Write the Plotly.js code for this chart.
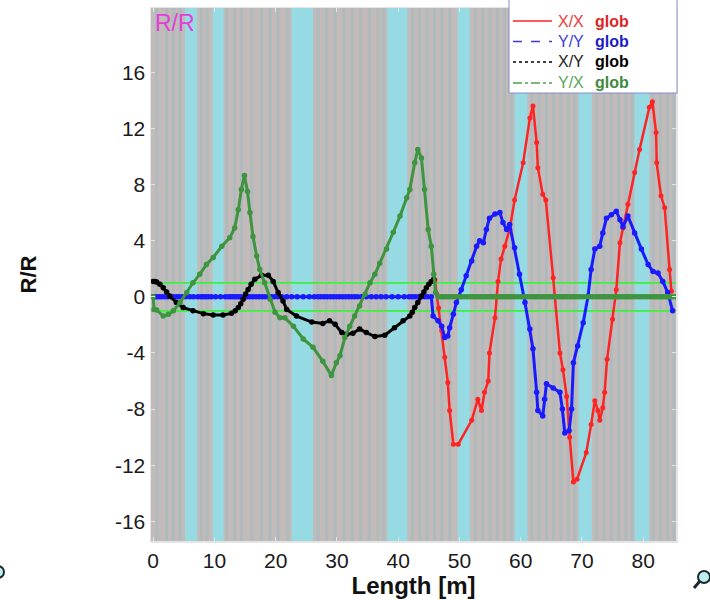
<!DOCTYPE html>
<html>
<head>
<meta charset="utf-8">
<script src="https://cdn.plot.ly/plotly-3.0.1.min.js"></script>
<style>html,body{margin:0;padding:0;background:#fff;}#chart{width:710px;height:600px;}</style>
</head>
<body>
<div id="chart"></div>
<script>
// ---- data ----
const seriesNames = ["X/X", "Y/Y", "X/Y", "Y/X"];
const seriesSuffix = "glob";

const xxLen = [46.0, 46.3, 46.6, 47.1, 47.6, 48.1, 48.4, 49.0, 49.8, 52.0, 53.0, 53.6, 54.1, 54.7, 54.9, 55.8, 56.3, 56.8, 57.4, 58.2, 59.0, 60.4, 61.5, 62.0, 62.6, 62.8, 63.6, 64.1, 65.3, 66.4, 66.9, 67.5, 68.0, 68.6, 69.2, 70.7, 71.5, 72.1, 72.6, 72.9, 73.4, 73.7, 74.1, 75.0, 75.6, 76.2, 76.7, 77.5, 78.6, 79.4, 81.0, 81.5, 82.1, 82.2, 82.9, 83.5, 84.3, 84.6];
const xxVal = [1.2, 0.2, -0.8, -2.4, -4.3, -6.1, -8.1, -10.5, -10.5, -8.8, -7.3, -8.1, -6.8, -6.0, -4.0, -1.5, 1.1, 2.7, 3.6, 4.8, 6.9, 9.55, 12.75, 13.6, 11.0, 9.2, 7.3, 6.9, 1.35, -4.0, -5.2, -7.1, -10.0, -13.2, -13.0, -11.1, -9.1, -7.4, -8.1, -8.8, -7.9, -6.8, -4.45, -1.6, 0.5, 3.85, 4.9, 6.6, 8.85, 10.5, 13.5, 13.9, 11.7, 9.55, 7.2, 6.35, 1.95, 0.4];

const yyLen = [0, 0.3, 0.7, 1.1, 1.5, 2.0, 2.4, 2.9, 3.3, 3.8, 4.2, 4.7, 5.3, 6.0, 6.6, 7.3, 7.8, 8.2, 8.6, 9.0, 9.5, 10.2, 11.0, 11.8, 12.3, 12.7, 13.1, 13.5, 13.9, 14.3, 14.8, 15.3, 15.8, 16.3, 16.8, 17.3, 17.8, 18.3, 18.8, 19.3, 19.8, 20.4, 21.0, 21.8, 22.6, 23.5, 24.5, 25.5, 26.3, 26.9, 27.4, 27.9, 28.4, 28.9, 29.4, 29.9, 30.4, 30.9, 31.4, 31.9, 32.4, 32.9, 33.4, 34.0, 34.8, 35.6, 36.4, 37.2, 38.0, 39.0, 40.0, 41.0, 41.8, 42.3, 42.8, 43.3, 43.8, 44.3, 44.8, 45.4,
  45.7, 46.5, 47.1, 47.6, 48.1, 48.4, 49.0, 49.5, 50.3, 51.1, 52.0, 52.8, 53.3, 53.9, 54.4, 54.9, 55.8, 56.6, 57.1, 57.7, 58.2, 59.0, 59.8, 60.7, 61.5, 62.0, 62.6, 62.8, 63.6, 63.9, 64.2, 65.3, 66.4, 66.8, 67.2, 67.9, 68.3, 68.6, 69.3, 70.2, 71.0, 71.5, 72.1, 72.9, 73.4, 74.0, 74.8, 75.6, 76.2, 76.7, 77.5, 78.6, 79.7, 80.8, 81.6, 82.4, 83.2, 84.0, 84.8];
const yyVal = [0, 0, 0, 0, 0, 0, 0, 0, 0, 0, 0, 0, 0, 0, 0, 0, 0, 0, 0, 0, 0, 0, 0, 0, 0, 0, 0, 0, 0, 0, 0, 0, 0, 0, 0, 0, 0, 0, 0, 0, 0, 0, 0, 0, 0, 0, 0, 0, 0, 0, 0, 0, 0, 0, 0, 0, 0, 0, 0, 0, 0, 0, 0, 0, 0, 0, 0, 0, 0, 0, 0, 0, 0, 0, 0, 0, 0, 0, 0, 0,
  -1.37, -1.7, -2.1, -2.9, -2.8, -2.2, -1.25, -0.4, 0.5, 1.5, 2.55, 3.6, 4.0, 3.85, 4.8, 5.6, 5.9, 6.0, 5.3, 4.8, 5.15, 3.5, 1.6, -0.4, -2.3, -3.7, -6.8, -8.1, -8.5, -7.3, -6.2, -6.5, -6.8, -8.0, -9.7, -9.55, -8.0, -4.7, -3.5, -1.85, 0.05, 1.95, 3.4, 3.6, 4.55, 5.6, 5.85, 6.1, 5.5, 5.0, 5.75, 4.55, 3.4, 2.3, 1.8, 1.7, 1.1, 0.3, -1.0];

const xyLen = [0, 0.3, 0.57, 1.1, 1.65, 2.2, 2.7, 3.8, 4.9, 6.5, 8.2, 9.8, 11.4, 12.8, 13.4, 13.9, 14.3, 14.7, 15.1, 15.5, 16.0, 16.6, 17.7, 18.8, 19.6, 20.4, 21.2, 21.8, 23.4, 25.9, 27.7, 28.8, 29.7, 30.8, 31.6, 32.6, 33.7, 34.8, 36.2, 37.8, 39.4, 40.8, 41.9, 42.3, 42.7, 43.2, 43.8, 44.2, 44.6, 45.0, 45.4, 45.8];
const xyVal = [1.1, 1.1, 1.05, 0.9, 0.65, 0.35, 0.05, -0.4, -0.77, -1.0, -1.2, -1.3, -1.3, -1.18, -1.0, -0.77, -0.5, -0.18, 0.2, 0.53, 0.9, 1.25, 1.53, 1.53, 1.1, 0.3, -0.3, -0.9, -1.37, -1.8, -1.9, -1.7, -1.96, -2.55, -2.67, -2.6, -2.3, -2.55, -2.83, -2.74, -2.2, -1.7, -1.37, -1.1, -0.77, -0.4, 0.06, 0.35, 0.65, 0.9, 1.1, 1.25];

const yxLen = [0, 0.15, 0.57, 1.65, 2.5, 3.3, 4.4, 5.5, 6.5, 7.6, 8.7, 9.8, 11.2, 12.5, 13.3, 13.9, 14.4, 14.9, 15.4, 15.8, 16.3, 16.9, 17.4, 18.2, 19.1, 19.9, 20.7, 21.5, 22.9, 24.5, 26.1, 27.7, 29.1, 29.9, 30.5, 31.3, 32.1, 32.9, 33.7, 34.6, 35.4, 36.2, 37.0, 38.1, 39.2, 40.3, 41.4, 41.9, 42.7, 43.2, 43.8, 44.3, 44.9, 45.4, 45.8, 46.1,
  46.5, 47.0, 47.4, 47.8, 48.2, 48.6, 49.0, 49.4, 49.8, 50.3, 50.8, 51.3, 51.8, 52.2, 52.6, 53.0, 53.4, 53.8, 54.2, 54.6, 55.0, 55.4, 55.8, 56.2, 56.6, 57.0, 57.4, 57.8, 58.2, 58.6, 59.0, 59.5, 60.0, 60.5, 61.0, 61.5, 62.0, 62.4, 62.8, 63.2, 63.6, 64.0, 64.4, 64.8, 65.2, 65.6, 66.0, 66.4, 66.8, 67.2, 67.6, 68.0, 68.4, 68.8, 69.2, 69.7, 70.2, 70.7, 71.2, 71.7, 72.2, 72.6, 73.0, 73.4, 73.8, 74.2, 74.6, 75.0, 75.4, 75.8, 76.2, 76.6, 77.0, 77.4, 77.8, 78.2, 78.7, 79.2, 79.7, 80.2, 80.7, 81.2, 81.6, 82.0, 82.4, 82.8, 83.2, 83.6, 84.0, 84.4, 84.8, 85.3];
const yxVal = [0, -0.9, -0.94, -1.37, -1.25, -1.0, -0.4, 0.3, 1.0, 1.6, 2.3, 2.8, 3.6, 4.2, 4.9, 6.2, 7.65, 8.65, 7.5, 6.0, 4.3, 2.9, 1.95, 1.0, -0.18, -1.1, -1.5, -1.5, -2.1, -3.0, -3.6, -4.6, -5.6, -4.7, -4.2, -2.9, -2.1, -1.37, -0.65, 0.18, 1.0, 1.6, 2.4, 3.4, 4.6, 5.75, 7.06, 7.65, 9.55, 10.5, 9.9, 7.65, 4.8, 3.6, 1.6, 0.3,
  0, 0, 0, 0, 0, 0, 0, 0, 0, 0, 0, 0, 0, 0, 0, 0, 0, 0, 0, 0, 0, 0, 0, 0, 0, 0, 0, 0, 0, 0, 0, 0, 0, 0, 0, 0, 0, 0, 0, 0, 0, 0, 0, 0, 0, 0, 0, 0, 0, 0, 0, 0, 0, 0, 0, 0, 0, 0, 0, 0, 0, 0, 0, 0, 0, 0, 0, 0, 0, 0, 0, 0, 0, 0, 0, 0, 0, 0, 0, 0, 0, 0, 0, 0, 0, 0, 0, 0, 0, 0, 0, 0];

// tolerance lines
const limitLevels = [1, -1];

// background element bands (lengths in m)
const cyanStart = [5.2, 9.7, 22.6, 38.2, 49.7, 59.0, 69.4, 78.6];
const cyanEnd   = [7.2, 11.5, 26.1, 41.5, 51.7, 61.1, 71.6, 81.0];
const greyMarks = [0.6, 2.2, 3.3, 4.4, 7.9, 8.8, 12.0, 13.3, 14.4, 16.1, 17.7, 19.1, 20.4, 22.0, 26.9, 28.3, 29.7, 31.1, 32.5, 33.9, 35.3, 36.7, 37.6, 42.3, 43.5, 44.7, 45.9, 47.1, 48.4, 52.6, 53.8, 55.0, 56.2, 57.4, 58.5, 61.8, 63.0, 64.2, 65.4, 66.6, 67.8, 68.8, 72.4, 73.6, 74.8, 76.0, 77.2, 78.2, 81.6, 82.8, 84.0, 85.0];

const xTicks = [0, 10, 20, 30, 40, 50, 60, 70, 80];
const yTicks = [-16, -12, -8, -4, 0, 4, 8, 12, 16];

// ---- styling ----
const FONT = "Arial, 'Liberation Sans', sans-serif";
const colors = {xx: "#ff2424", yy: "#1a1aff", xy: "#000000", yx: "#3f943f"};
const ML = 151, MR = 34, MT = 8, MB = 59, W = 710, H = 600;
const PW = W - ML - MR, PH = H - MT - MB;
const px2x = p => (p - ML) / PW;
const py2y = p => (H - MB - p) / PH;

function trace(x, y, color, lw, ms) {
  return {x: x, y: y, type: "scatter", mode: "lines+markers", showlegend: false,
    line: {color: color, width: lw}, marker: {color: color, size: ms, symbol: "circle"},
    hoverinfo: "skip"};
}

const data = [
  trace(xxLen, xxVal, colors.xx, 2.5, 5),
  trace(yyLen, yyVal, colors.yy, 3, 5.5),
  trace(xyLen, xyVal, colors.xy, 3, 5.5),
  trace(yxLen, yxVal, colors.yx, 3, 5.5)
];

const shapes = [];
greyMarks.forEach(c => shapes.push({type: "rect", xref: "x", yref: "paper", x0: c - 0.25, x1: c + 0.25, y0: 0, y1: 1,
  fillcolor: "#afbabd", line: {width: 0}, layer: "below"}));
cyanStart.forEach((s, i) => shapes.push({type: "rect", xref: "x", yref: "paper", x0: s, x1: cyanEnd[i], y0: 0, y1: 1,
  fillcolor: "#96dae4", line: {width: 0}, layer: "below"}));
limitLevels.forEach(v => shapes.push({type: "line", xref: "paper", yref: "y", x0: 0, x1: 1, y0: v, y1: v,
  line: {color: "#3cf03c", width: 1.8}, layer: "below"}));

// legend box (drawn manually)
shapes.push({type: "rect", xref: "paper", yref: "paper", x0: px2x(509), x1: px2x(677), y0: py2y(93), y1: py2y(-3),
  fillcolor: "#ffffff", line: {color: "#8a8ac8", width: 1}, layer: "above"});
const legRows = [21, 41.5, 62, 83];
const legDash = ["solid", "dash", "dot", "dashdot"];
const legLine = [colors.xx, "#3a3ae8", "#000000", "#4fa04f"];
const legText = ["#ee3a3a", "#3c3ce0", "#222222", "#5aa55a"];
const legGlob = ["#e02424", "#1c1cc8", "#000000", "#3d8a3d"];
legRows.forEach((r, i) => shapes.push({type: "line", xref: "paper", yref: "paper", x0: px2x(513), x1: px2x(552), y0: py2y(r), y1: py2y(r),
  line: {color: legLine[i], width: 1.5, dash: legDash[i]}, layer: "above"}));

// magnifier glyphs at bottom corners
[[704, 577], [-2, 572]].forEach(p => {
  shapes.push({type: "circle", xref: "paper", yref: "paper", x0: px2x(p[0] - 6), x1: px2x(p[0] + 6), y0: py2y(p[1] + 6), y1: py2y(p[1] - 6),
    fillcolor: "#bfeef2", line: {color: "#1c2a2c", width: 2}});
  shapes.push({type: "line", xref: "paper", yref: "paper", x0: px2x(p[0] - 4), x1: px2x(p[0] - 10), y0: py2y(p[1] + 4), y1: py2y(p[1] + 11),
    line: {color: "#1c2a2c", width: 3}});
});

const annotations = [];
legRows.forEach((r, i) => {
  annotations.push({xref: "paper", yref: "paper", x: px2x(556), y: py2y(r), xanchor: "left", yanchor: "middle", showarrow: false,
    text: seriesNames[i], font: {family: FONT, size: 16, color: legText[i]}});
  annotations.push({xref: "paper", yref: "paper", x: px2x(593), y: py2y(r), xanchor: "left", yanchor: "middle", showarrow: false,
    text: "<b>" + seriesSuffix + "</b>", font: {family: FONT, size: 16, color: legGlob[i]}});
});
annotations.push({xref: "paper", yref: "paper", x: px2x(153), y: py2y(23), xanchor: "left", yanchor: "middle", showarrow: false,
  text: "R/R", font: {family: FONT, size: 23, color: "#e33fd6"}});

const layout = {
  width: W, height: H,
  margin: {l: ML, r: MR, t: MT, b: MB, pad: 0},
  paper_bgcolor: "#ffffff",
  plot_bgcolor: "#c3baba",
  showlegend: false,
  font: {family: FONT, color: "#1a1a1a"},
  xaxis: {
    range: [-0.35, 85.35], tickvals: xTicks, ticktext: xTicks.map(String),
    showgrid: false, zeroline: false, showline: true, mirror: "ticks", linecolor: "#e4e4e4", linewidth: 1.5,
    ticks: "inside", ticklen: 4, tickcolor: "#e4e4e4", tickfont: {family: FONT, size: 21, color: "#1a1a1a"},
    title: {text: "<b>Length [m]</b>", font: {family: FONT, size: 24, color: "#111"}, standoff: 6},
    automargin: false
  },
  yaxis: {
    range: [-17.4, 20.58], tickvals: yTicks, ticktext: yTicks.map(String),
    showgrid: false, zeroline: false, showline: true, mirror: "ticks", linecolor: "#e4e4e4", linewidth: 1.5,
    ticks: "inside", ticklen: 4, tickcolor: "#e4e4e4", tickfont: {family: FONT, size: 21, color: "#1a1a1a"},
    title: {text: "<b>R/R</b>", font: {family: FONT, size: 22, color: "#111"}, standoff: 72},
    automargin: false
  },
  shapes: shapes,
  annotations: annotations
};

Plotly.newPlot("chart", data, layout, {displayModeBar: false, staticPlot: true});
</script>
</body>
</html>
